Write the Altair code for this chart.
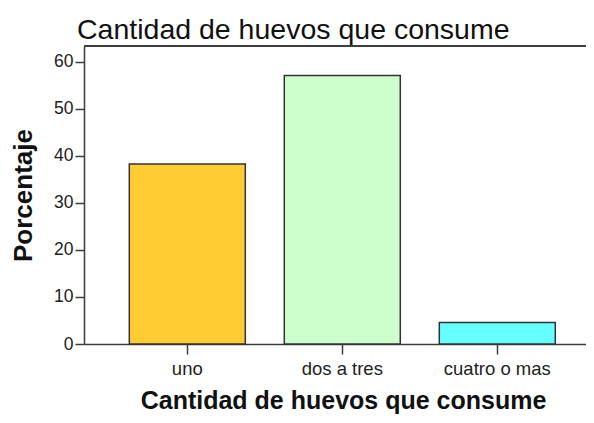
import altair as alt
import pandas as pd

categorias = ["uno", "dos a tres", "cuatro o mas"]
porcentajes = [38.3, 57.1, 4.6]
colores = ["#FFCC33", "#CCFFCC", "#66FFFF"]
y_ticks = [0, 10, 20, 30, 40, 50, 60]
y_max = 63.4

df = pd.DataFrame({"cat": categorias, "pct": porcentajes})
FONT = "Liberation Sans"

x_enc = alt.X(
    "cat:N",
    sort=categorias,
    scale=alt.Scale(paddingInner=0.2516, paddingOuter=0.2452, align=0.596),
    axis=alt.Axis(
        title="Cantidad de huevos que consume",
        labelAngle=0,
        labelFont=FONT,
        labelFontSize=18.5,
        labelColor="#222222",
        labelPadding=5,
        tickSize=10,
        tickWidth=1.5,
        tickColor="#3c3c3c",
        domainColor="#3c3c3c",
        domainWidth=1.5,
        titleFont=FONT,
        titleFontSize=25,
        titleFontWeight="bold",
        titleColor="#111111",
        titleX=259,
        titleY=64,
        titleAlign="center",
        titleBaseline="alphabetic",
    ),
)

y_scale = alt.Scale(domain=[0, y_max], nice=False, zero=True)

bars = alt.Chart(df).mark_bar(stroke="#333333", strokeWidth=1.5).encode(
    x=x_enc,
    y=alt.Y(
        "pct:Q",
        scale=y_scale,
        axis=alt.Axis(
            title="Porcentaje",
            values=y_ticks,
            grid=False,
            labelFont=FONT,
            labelFontSize=17.5,
            labelColor="#222222",
            labelPadding=2,
            tickSize=9,
            tickWidth=1.5,
            tickColor="#3c3c3c",
            domainColor="#3c3c3c",
            domainWidth=1.5,
            titleFont=FONT,
            titleFontSize=26,
            titleFontWeight="bold",
            titleColor="#111111",
            titleAngle=270,
            titleX=-53,
            titleY=149,
            titleAlign="center",
            titleBaseline="alphabetic",
        ),
    ),
    color=alt.Color(
        "cat:N",
        scale=alt.Scale(domain=categorias, range=colores),
        legend=None,
    ),
)

top_border = alt.Chart(df).mark_rule(color="#3c3c3c", strokeWidth=1.5).encode(
    y=alt.datum(y_max)
)

chart = (
    alt.layer(bars, top_border)
    .properties(
        width=502,
        height=298,
        autosize=alt.AutoSizeParams(type="none"),
        padding={"left": 76, "top": 38, "right": 0, "bottom": 71},
        title=alt.TitleParams(
            text="Cantidad de huevos que consume",
            anchor="start",
            frame="group",
            font=FONT,
            fontSize=28.5,
            fontWeight="normal",
            color="#111111",
            baseline="alphabetic",
            offset=6,
            dx=-7,
            dy=28,
        ),
    )
    .configure_view(fill="#F0F0F0", strokeWidth=0)
    .configure(background="white")
)

chart.save("out.html", embed_options={"renderer": "svg", "actions": False})
